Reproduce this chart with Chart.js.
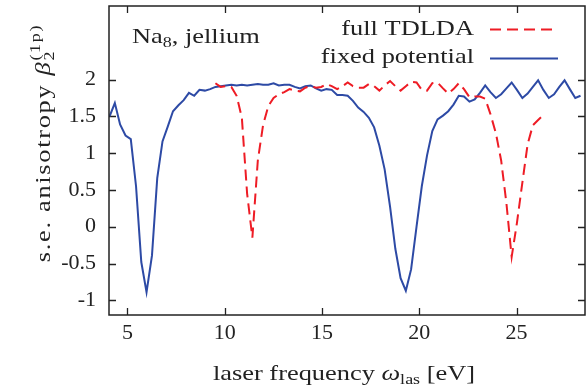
<!DOCTYPE html>
<html><head><meta charset="utf-8">
<script src="https://cdn.jsdelivr.net/npm/chart.js@4/dist/chart.umd.min.js"></script>
<style>html,body{margin:0;padding:0;background:#fff;}#wrap{width:587px;height:388px;}</style>
</head><body><div id="wrap"><canvas id="c" width="587" height="388"></canvas></div>
<script>
// laser frequency (eV) and anisotropy values
const freqFixed = [4.08,4.35,4.62,4.90,5.17,5.44,5.71,5.98,6.26,6.53,6.80,7.07,7.34,7.62,7.89,8.16,8.43,8.70,8.98,9.25,
  9.52,9.79,10.06,10.34,10.61,10.88,11.15,11.42,11.70,11.97,12.24,12.51,12.78,13.06,13.33,13.60,13.87,14.14,14.42,14.69,
  14.96,15.23,15.50,15.78,16.05,16.32,16.59,16.86,17.14,17.41,17.68,17.95,18.22,18.50,18.77,19.04,19.31,19.58,19.86,20.13,
  20.40,20.67,20.94,21.22,21.49,21.76,22.03,22.30,22.58,22.85,23.12,23.39,23.66,23.94,24.21,24.48,24.75,25.02,25.30,25.57,
  25.84,26.11,26.38,26.66,26.93,27.20,27.47,27.74,28.02,28.29];
const betaFixed = [1.50,1.68,1.39,1.24,1.19,0.55,-0.48,-0.89,-0.39,0.66,1.16,1.36,1.57,1.65,1.72,1.82,1.78,1.86,1.85,1.87,
  1.90,1.91,1.92,1.93,1.92,1.93,1.92,1.93,1.94,1.93,1.93,1.95,1.92,1.93,1.93,1.90,1.88,1.91,1.92,1.88,
  1.85,1.87,1.86,1.79,1.79,1.78,1.71,1.62,1.56,1.48,1.35,1.10,0.78,0.27,-0.30,-0.70,-0.87,-0.58,0.00,0.55,
  0.97,1.30,1.46,1.51,1.57,1.66,1.78,1.77,1.70,1.73,1.82,1.92,1.83,1.75,1.80,1.88,1.96,1.86,1.75,1.81,
  1.90,1.99,1.86,1.75,1.80,1.90,1.99,1.87,1.75,1.78];
const freqFull = [9.52,9.79,10.06,10.34,10.61,10.88,11.15,11.42,11.70,11.97,12.24,12.51,12.78,13.06,13.33,13.60,13.87,14.14,14.42,14.69,
  14.96,15.23,15.50,15.78,16.05,16.32,16.59,16.86,17.14,17.41,17.68,17.95,18.22,18.50,18.77,19.04,19.31,19.58,19.86,20.13,
  20.40,20.67,20.94,21.22,21.49,21.76,22.03,22.30,22.58,22.85,23.12,23.39,23.66,23.94,24.21,24.48,24.75,25.02,25.30,25.57,
  25.84,26.11,26.38];
const betaFull = [1.95,1.90,1.91,1.90,1.78,1.48,0.45,-0.15,0.90,1.38,1.64,1.75,1.80,1.83,1.87,1.85,1.84,1.89,1.91,1.89,
  1.90,1.94,1.91,1.87,1.91,1.96,1.91,1.89,1.89,1.94,1.91,1.85,1.92,1.98,1.91,1.85,1.91,1.97,1.96,1.86,
  1.85,1.95,1.96,1.88,1.81,1.87,1.95,1.87,1.76,1.77,1.77,1.74,1.53,1.27,0.90,0.32,-0.41,0.05,0.60,1.12,
  1.38,1.45,1.52];
const xTicks = [5, 10, 15, 20, 25];
const yTicks = [-1, -0.5, 0, 0.5, 1, 1.5, 2];
const seriesNames = ['full TDLDA', 'fixed potential'];

const FONT = '"Liberation Serif", "Times New Roman", serif';
const FS = 22;
const HS = 1.2;
const TXT = '#222';
const RED = '#ee1c25';
const BLUE = '#2d4aa5';

function drawRich(ctx, parts, x, y, align, spacing) {
  ctx.save();
  if (spacing) ctx.letterSpacing = spacing + 'px';
  const fontFor = (p, small) => (p.it ? 'italic ' : '') + (small ? Math.round(FS * 0.7) : FS) + 'px ' + FONT;
  const widthOf = p => {
    if (p.stack) {
      ctx.font = fontFor(p, true);
      return HS * Math.max(...p.stack.map(s => ctx.measureText(s.t).width));
    }
    ctx.font = fontFor(p, p.dy !== undefined);
    return HS * ctx.measureText(p.t).width;
  };
  const total = parts.reduce((s, p) => s + widthOf(p), 0);
  let cx = align === 'center' ? x - total / 2 : align === 'right' ? x - total : x;
  ctx.textAlign = 'left';
  ctx.textBaseline = 'alphabetic';
  const put = (t, px, py) => {
    ctx.save(); ctx.translate(px, py); ctx.scale(HS, 1); ctx.fillText(t, 0, 0); ctx.restore();
  };
  parts.forEach(p => {
    const w = widthOf(p);
    if (p.stack) {
      ctx.font = fontFor(p, true);
      p.stack.forEach(s => put(s.t, cx, y + s.dy));
    } else {
      ctx.font = fontFor(p, p.dy !== undefined);
      put(p.t, cx, y + (p.dy || 0));
    }
    cx += w;
  });
  ctx.restore();
  return total;
}

const decor = {
  id: 'decor',
  beforeDatasetsDraw(chart) {
    const {ctx, chartArea: a, scales: {x, y}} = chart;
    ctx.save();
    ctx.strokeStyle = TXT;
    ctx.lineWidth = 1.3;
    const tl = 7;
    ctx.beginPath();
    xTicks.forEach(v => {
      const px = Math.round(x.getPixelForValue(v)) + 0.5;
      ctx.moveTo(px, a.bottom); ctx.lineTo(px, a.bottom - tl);
      ctx.moveTo(px, a.top); ctx.lineTo(px, a.top + tl);
    });
    yTicks.forEach(v => {
      const py = Math.round(y.getPixelForValue(v)) + 0.5;
      ctx.moveTo(a.left, py); ctx.lineTo(a.left + tl, py);
      ctx.moveTo(a.right, py); ctx.lineTo(a.right - tl, py);
    });
    ctx.stroke();
    ctx.restore();
  },
  afterDraw(chart) {
    const {ctx, chartArea: a} = chart;
    ctx.save();
    ctx.strokeStyle = TXT;
    ctx.lineWidth = 1.5;
    ctx.strokeRect(a.left, a.top, a.right - a.left, a.bottom - a.top);
    ctx.fillStyle = TXT;
    drawRich(ctx, [{t: 'laser frequency '}, {t: 'ω', it: true}, {t: 'las', dy: 4}, {t: ' [eV]'}], 344, 380, 'center');
    drawRich(ctx, [{t: 'Na'}, {t: '8', dy: 4}, {t: ', jellium'}], 132, 43, 'left');
    drawRich(ctx, [{t: seriesNames[0]}], 474, 35, 'right');
    drawRich(ctx, [{t: seriesNames[1]}], 474, 63, 'right');
    ctx.lineWidth = 2;
    ctx.strokeStyle = RED; ctx.setLineDash([11, 6]);
    ctx.beginPath(); ctx.moveTo(490, 29.5); ctx.lineTo(558, 29.5); ctx.stroke();
    ctx.strokeStyle = BLUE; ctx.setLineDash([]);
    ctx.beginPath(); ctx.moveTo(490, 58.5); ctx.lineTo(558, 58.5); ctx.stroke();
    ctx.translate(50, 143);
    ctx.rotate(-Math.PI / 2);
    drawRich(ctx, [{t: 's.e. anisotropy '}, {t: 'β', it: true}, {stack: [{t: '2', dy: 4}, {t: '(1p)', dy: -10}]}], 0, 0, 'center', 1.4);
    ctx.restore();
  }
};

new Chart(document.getElementById('c'), {
  type: 'line',
  data: {
    datasets: [
      {label: seriesNames[0], data: freqFull.map((v, i) => ({x: v, y: betaFull[i]})),
       borderColor: RED, borderWidth: 2, borderDash: [11, 6], pointRadius: 0, fill: false, tension: 0},
      {label: seriesNames[1], data: freqFixed.map((v, i) => ({x: v, y: betaFixed[i]})),
       borderColor: BLUE, borderWidth: 2, pointRadius: 0, fill: false, tension: 0}
    ]
  },
  options: {
    responsive: false,
    animation: false,
    layout: {padding: {left: 0, right: 2, top: 6, bottom: 0}},
    plugins: {legend: {display: false}, tooltip: {enabled: false}},
    scales: {
      x: {
        type: 'linear', min: 4.05, max: 28.52,
        grid: {display: false}, border: {display: false},
        afterBuildTicks: s => { s.ticks = xTicks.map(v => ({value: v})); },
        afterFit: s => { s.height = 73; s.paddingLeft = 0; s.paddingRight = 0; },
        ticks: {font: {family: FONT, size: FS}, color: TXT, padding: -3, maxRotation: 0, autoSkip: false}
      },
      y: {
        type: 'linear', min: -1.2, max: 3,
        grid: {display: false}, border: {display: false},
        afterBuildTicks: s => { s.ticks = yTicks.map(v => ({value: v})); },
        afterFit: s => { s.width = 109; s.paddingTop = 0; s.paddingBottom = 0; },
        ticks: {font: {family: FONT, size: FS}, color: TXT, padding: 5, autoSkip: false,
                callback: v => String(v)}
      }
    }
  },
  plugins: [decor]
});
</script></body></html>
